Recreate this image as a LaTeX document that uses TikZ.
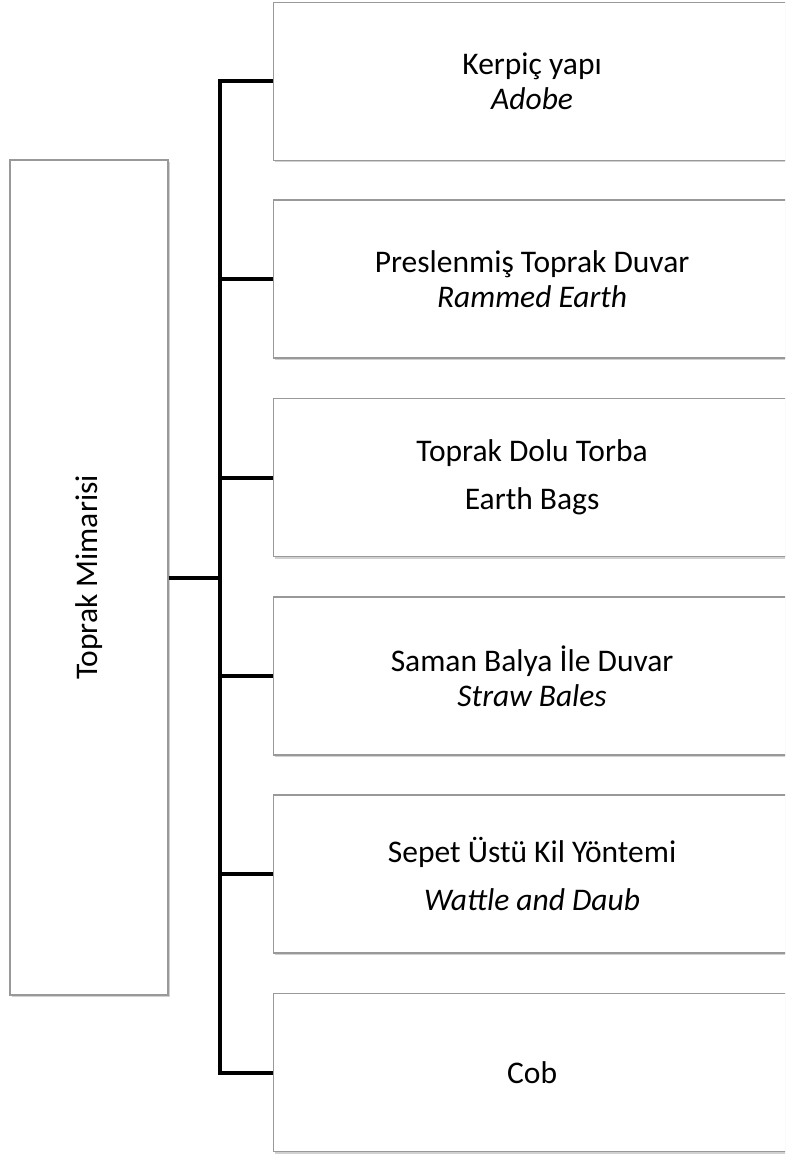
\documentclass[tikz,border=0pt]{standalone}
\usepackage{fontspec}
\setmainfont{Carlito}
\usetikzlibrary{shadows}
\begin{document}
\begin{tikzpicture}[x=1pt,y=-1pt,
  box/.style={draw=black!40, line width=1.2pt, fill=white, inner sep=0pt,
    drop shadow={shadow xshift=1.5pt, shadow yshift=-2pt, opacity=0.3, fill=black!60},
    font=\fontsize{31.5}{35}\selectfont, align=center},
  itembox/.style={box, minimum width=517pt, minimum height=158pt, anchor=west},
  link/.style={line width=4pt}
]
\useasboundingbox (0,0) rectangle (785,1155);
\clip (0,0) rectangle (785,1155);
\node[box, minimum width=158pt, minimum height=835pt] (root) at (89,577.5)
  {\rotatebox{90}{Toprak Mimarisi}};
\node[itembox] (a) at (273,81.5) {Kerpiç yapı\\ \textit{Adobe}};
\node[itembox] (b) at (273,279) {Preslenmiş Toprak Duvar\\ \textit{Rammed Earth}};
\node[itembox] (c) at (273,477.5) {Toprak Dolu Torba\\[13pt] Earth Bags};
\node[itembox] (d) at (273,676) {Saman Balya İle Duvar\\ \textit{Straw Bales}};
\node[itembox] (e) at (273,874) {Sepet Üstü Kil Yöntemi\\[13pt] \textit{Wattle and Daub}};
\node[itembox] (f) at (273,1072.5) {Cob};
\coordinate (top) at (220,80);
\coordinate (bot) at (220,1073);
\coordinate (mid) at (220,577.5);
\draw[link] (a.west) -- (a.west -| top) -- (f.west -| bot) -- (f.west);
\foreach \n in {b,c,d,e} \draw[link] (\n.west -| top) -- (\n.west);
\draw[link] (root.east) -- (mid);
\end{tikzpicture}
\end{document}
